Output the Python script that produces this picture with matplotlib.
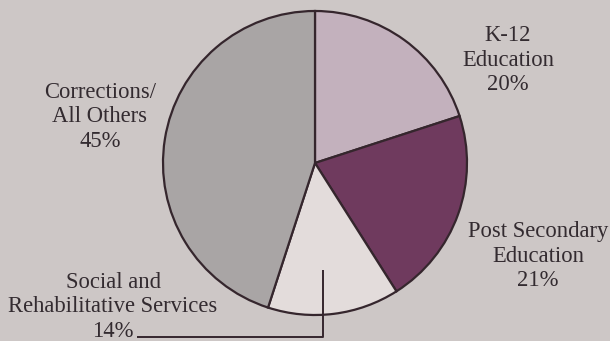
import matplotlib
matplotlib.use("Agg")
import matplotlib.pyplot as plt

categories = ["K-12\nEducation", "Post Secondary\nEducation",
              "Social and\nRehabilitative Services", "Corrections/\nAll Others"]
shares = [20, 21, 14, 45]

colors = ["#c3b1bd", "#6f3a5e", "#e3dcdb", "#a9a5a5"]
bg = "#cdc7c6"
W, H = 610, 341

fig = plt.figure(figsize=(W / 100, H / 100), dpi=100, facecolor=bg)
ax = fig.add_axes([0, 0, 1, 1])
ax.set_facecolor(bg)

cx, cy, r = 315, H - 163, 152
ax.pie(shares, colors=colors, startangle=90, counterclock=False,
       center=(cx, cy), radius=r, frame=True,
       wedgeprops=dict(edgecolor="#35262d", linewidth=1.6))
ax.set_xlim(0, W)
ax.set_ylim(0, H)
ax.set_aspect("equal")
ax.axis("off")

font = dict(family=["Liberation Serif", "DejaVu Serif"], fontsize=16.3,
            color="#332b30", ha="center", va="center", linespacing=1.2)
label_pos = [(508, H - 60), (538, H - 256), (113, H - 307), (100, H - 117)]
for cat, val, (x, y) in zip(categories, shares, label_pos):
    ax.text(x, y, f"{cat}\n{val}%", **font)

# leader line for Social and Rehabilitative Services
ax.plot([323, 323, 137], [H - 270, H - 337, H - 337], color="#35262d", lw=1.4,
        solid_capstyle="butt")

fig.savefig("out.png", dpi=100, facecolor=bg)
